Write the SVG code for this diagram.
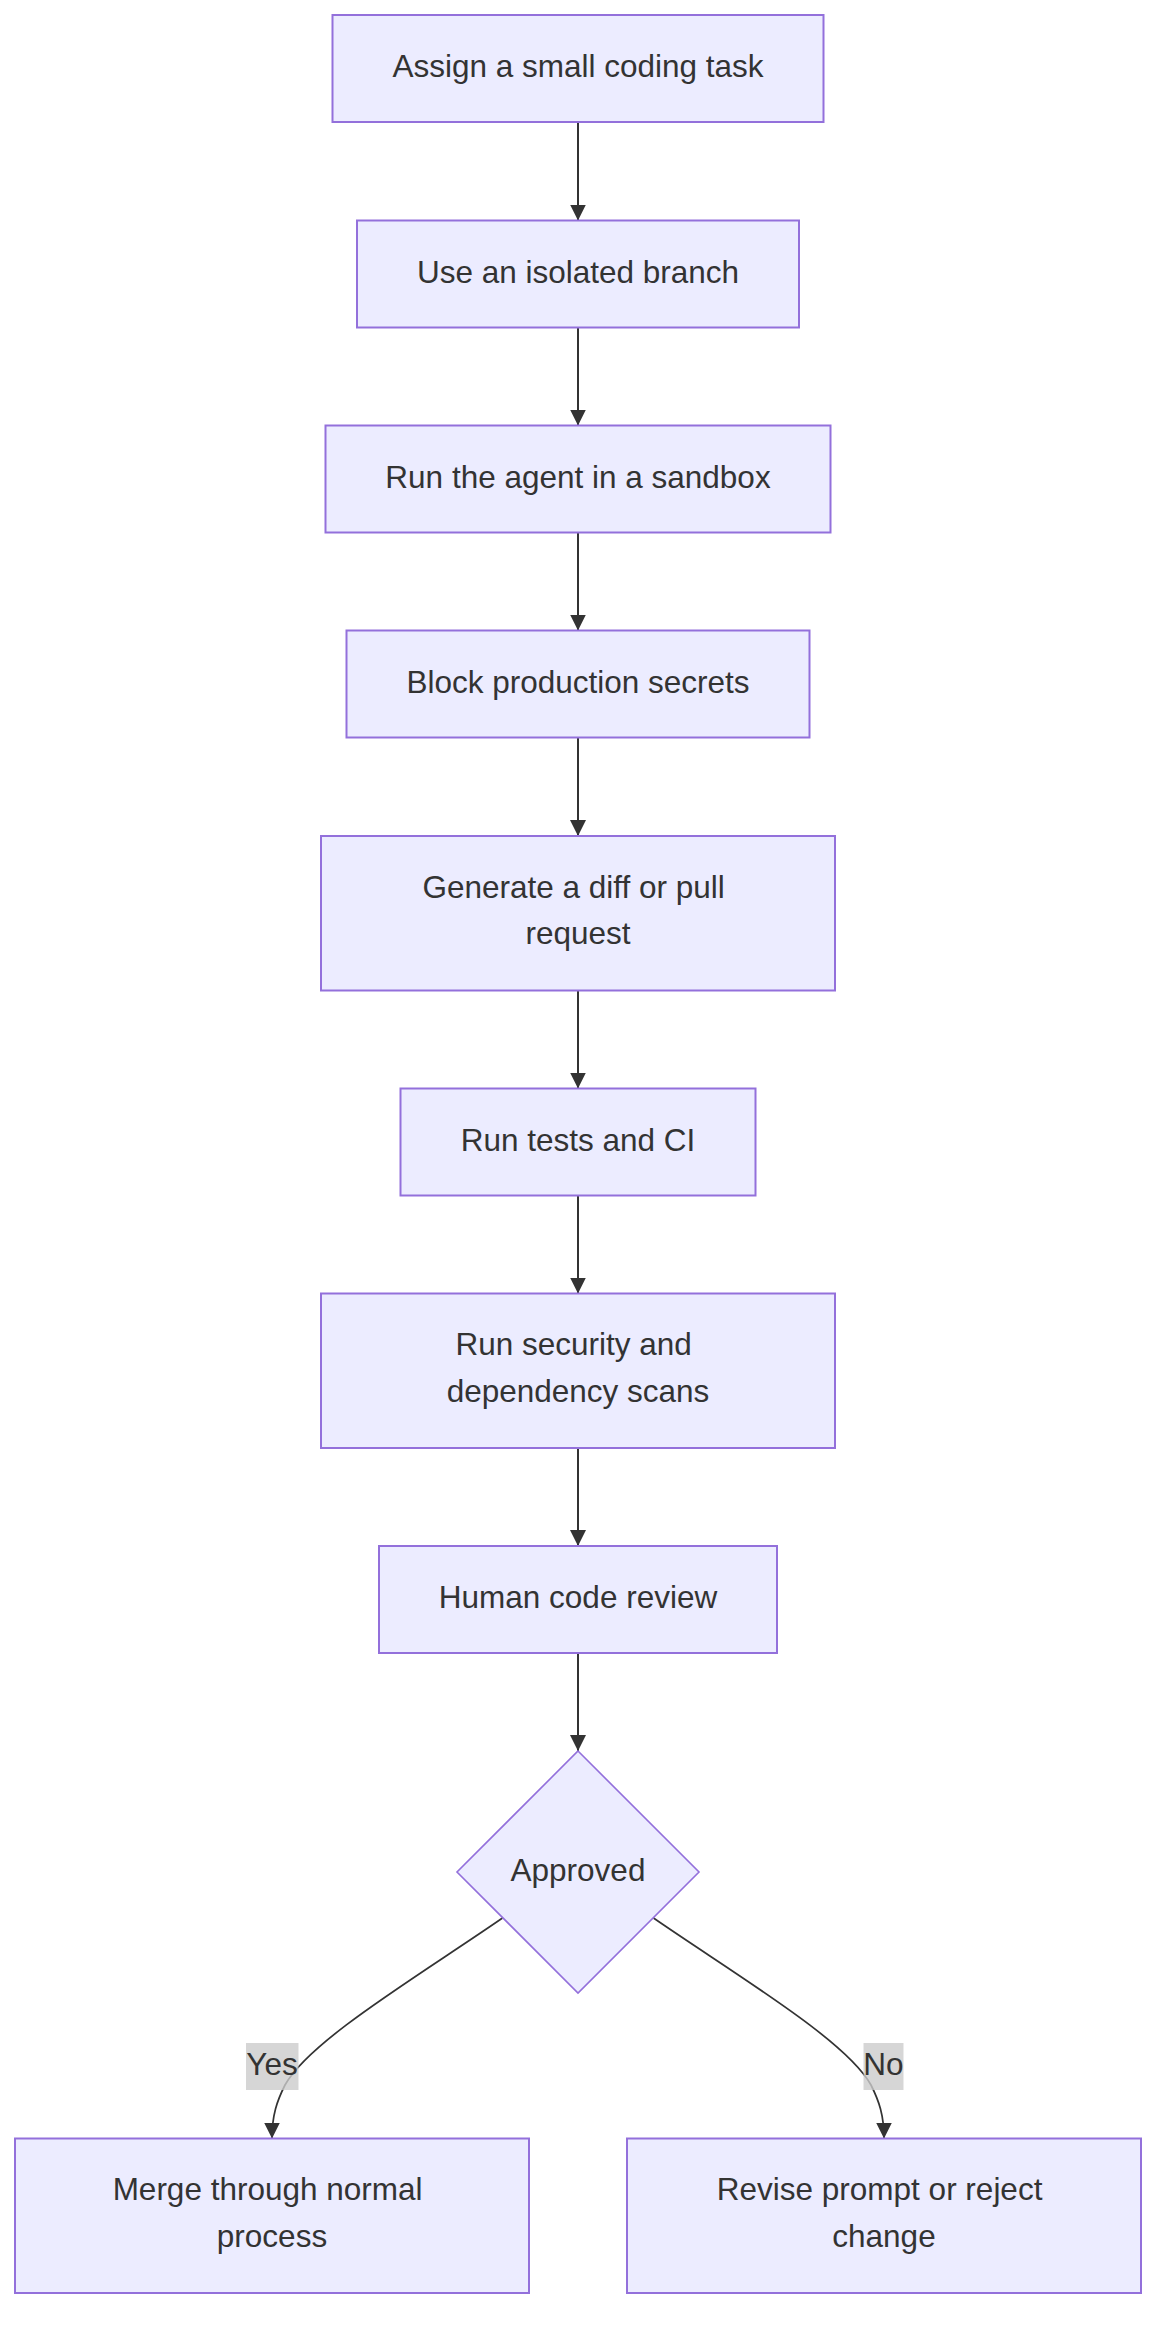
<svg xmlns="http://www.w3.org/2000/svg" width="1172" height="2342" viewBox="0 0 1172 2342">
<style>
.node rect, .node polygon { fill: #ECECFF; stroke: #9370DB; stroke-width: 2; }
.node polygon { stroke-width: 1.6; }
text { font-family: "Liberation Sans", Arial, Helvetica, sans-serif; font-size: 31.5px; fill: #333333; text-anchor: middle; }
.edge { fill: none; stroke: #333333; stroke-width: 2; marker-end: url(#arrow); }
.curve { stroke-width: 1.7; }
.lbl rect { fill: #CCCCCC; fill-opacity: 0.8; stroke: none; }
</style>
<defs>
<marker id="arrow" viewBox="0 0 10 10" refX="10" refY="5" markerUnits="userSpaceOnUse" markerWidth="16" markerHeight="16" orient="auto">
<path d="M0,0 L10,5 L0,10 z" fill="#333333"/>
</marker>
</defs>
<rect x="0" y="0" width="1172" height="2342" fill="#FFFFFF"/>
<g id="connectors">
<path class="edge" d="M578,122 L578,220.5"/>
<path class="edge" d="M578,327.5 L578,425.5"/>
<path class="edge" d="M578,532.5 L578,630.5"/>
<path class="edge" d="M578,737.5 L578,836"/>
<path class="edge" d="M578,990.5 L578,1088.5"/>
<path class="edge" d="M578,1195.5 L578,1293.5"/>
<path class="edge" d="M578,1448 L578,1546"/>
<path class="edge" d="M578,1653 L578,1751"/>
<path class="edge curve" d="M502.5,1918 C420,1975 310,2040 285,2085 C277,2101 272,2115 272,2138.5"/>
<path class="edge curve" d="M653.5,1918 C736,1975 846,2040 871,2085 C879,2101 884,2115 884,2138.5"/>
<g class="lbl" id="label-yes"><rect x="246" y="2043" width="52.5" height="47"/><text x="272" y="2074.5">Yes</text></g>
<g class="lbl" id="label-no"><rect x="863.5" y="2043" width="40" height="47"/><text x="883.5" y="2074.5">No</text></g>
</g>
<g class="node" id="n1"><rect x="332.5" y="15" width="491" height="107"/><text x="578" y="77">Assign a small coding task</text></g>
<g class="node" id="n2"><rect x="357" y="220.5" width="442" height="107"/><text x="578" y="282.5">Use an isolated branch</text></g>
<g class="node" id="n3"><rect x="325.5" y="425.5" width="505" height="107"/><text x="578" y="487.5">Run the agent in a sandbox</text></g>
<g class="node" id="n4"><rect x="346.5" y="630.5" width="463" height="107"/><text x="578" y="692.5">Block production secrets</text></g>
<g class="node" id="n5"><rect x="321" y="836" width="514" height="154.5"/><text x="573.6" y="897.75">Generate a diff or pull</text><text x="578" y="944.25">request</text></g>
<g class="node" id="n6"><rect x="400.5" y="1088.5" width="355" height="107"/><text x="578" y="1150.5">Run tests and CI</text></g>
<g class="node" id="n7"><rect x="321" y="1293.5" width="514" height="154.5"/><text x="573.6" y="1355.25">Run security and</text><text x="578" y="1401.75">dependency scans</text></g>
<g class="node" id="n8"><rect x="379" y="1546" width="398" height="107"/><text x="578" y="1608">Human code review</text></g>
<g class="node" id="n9"><polygon points="578,1751 699,1872 578,1993 457,1872"/><text x="578" y="1880.5">Approved</text></g>
<g class="node" id="n10"><rect x="15" y="2138.5" width="514" height="154.5"/><text x="267.6" y="2200.25">Merge through normal</text><text x="272" y="2246.75">process</text></g>
<g class="node" id="n11"><rect x="627" y="2138.5" width="514" height="154.5"/><text x="879.6" y="2200.25">Revise prompt or reject</text><text x="884" y="2246.75">change</text></g>
</svg>
